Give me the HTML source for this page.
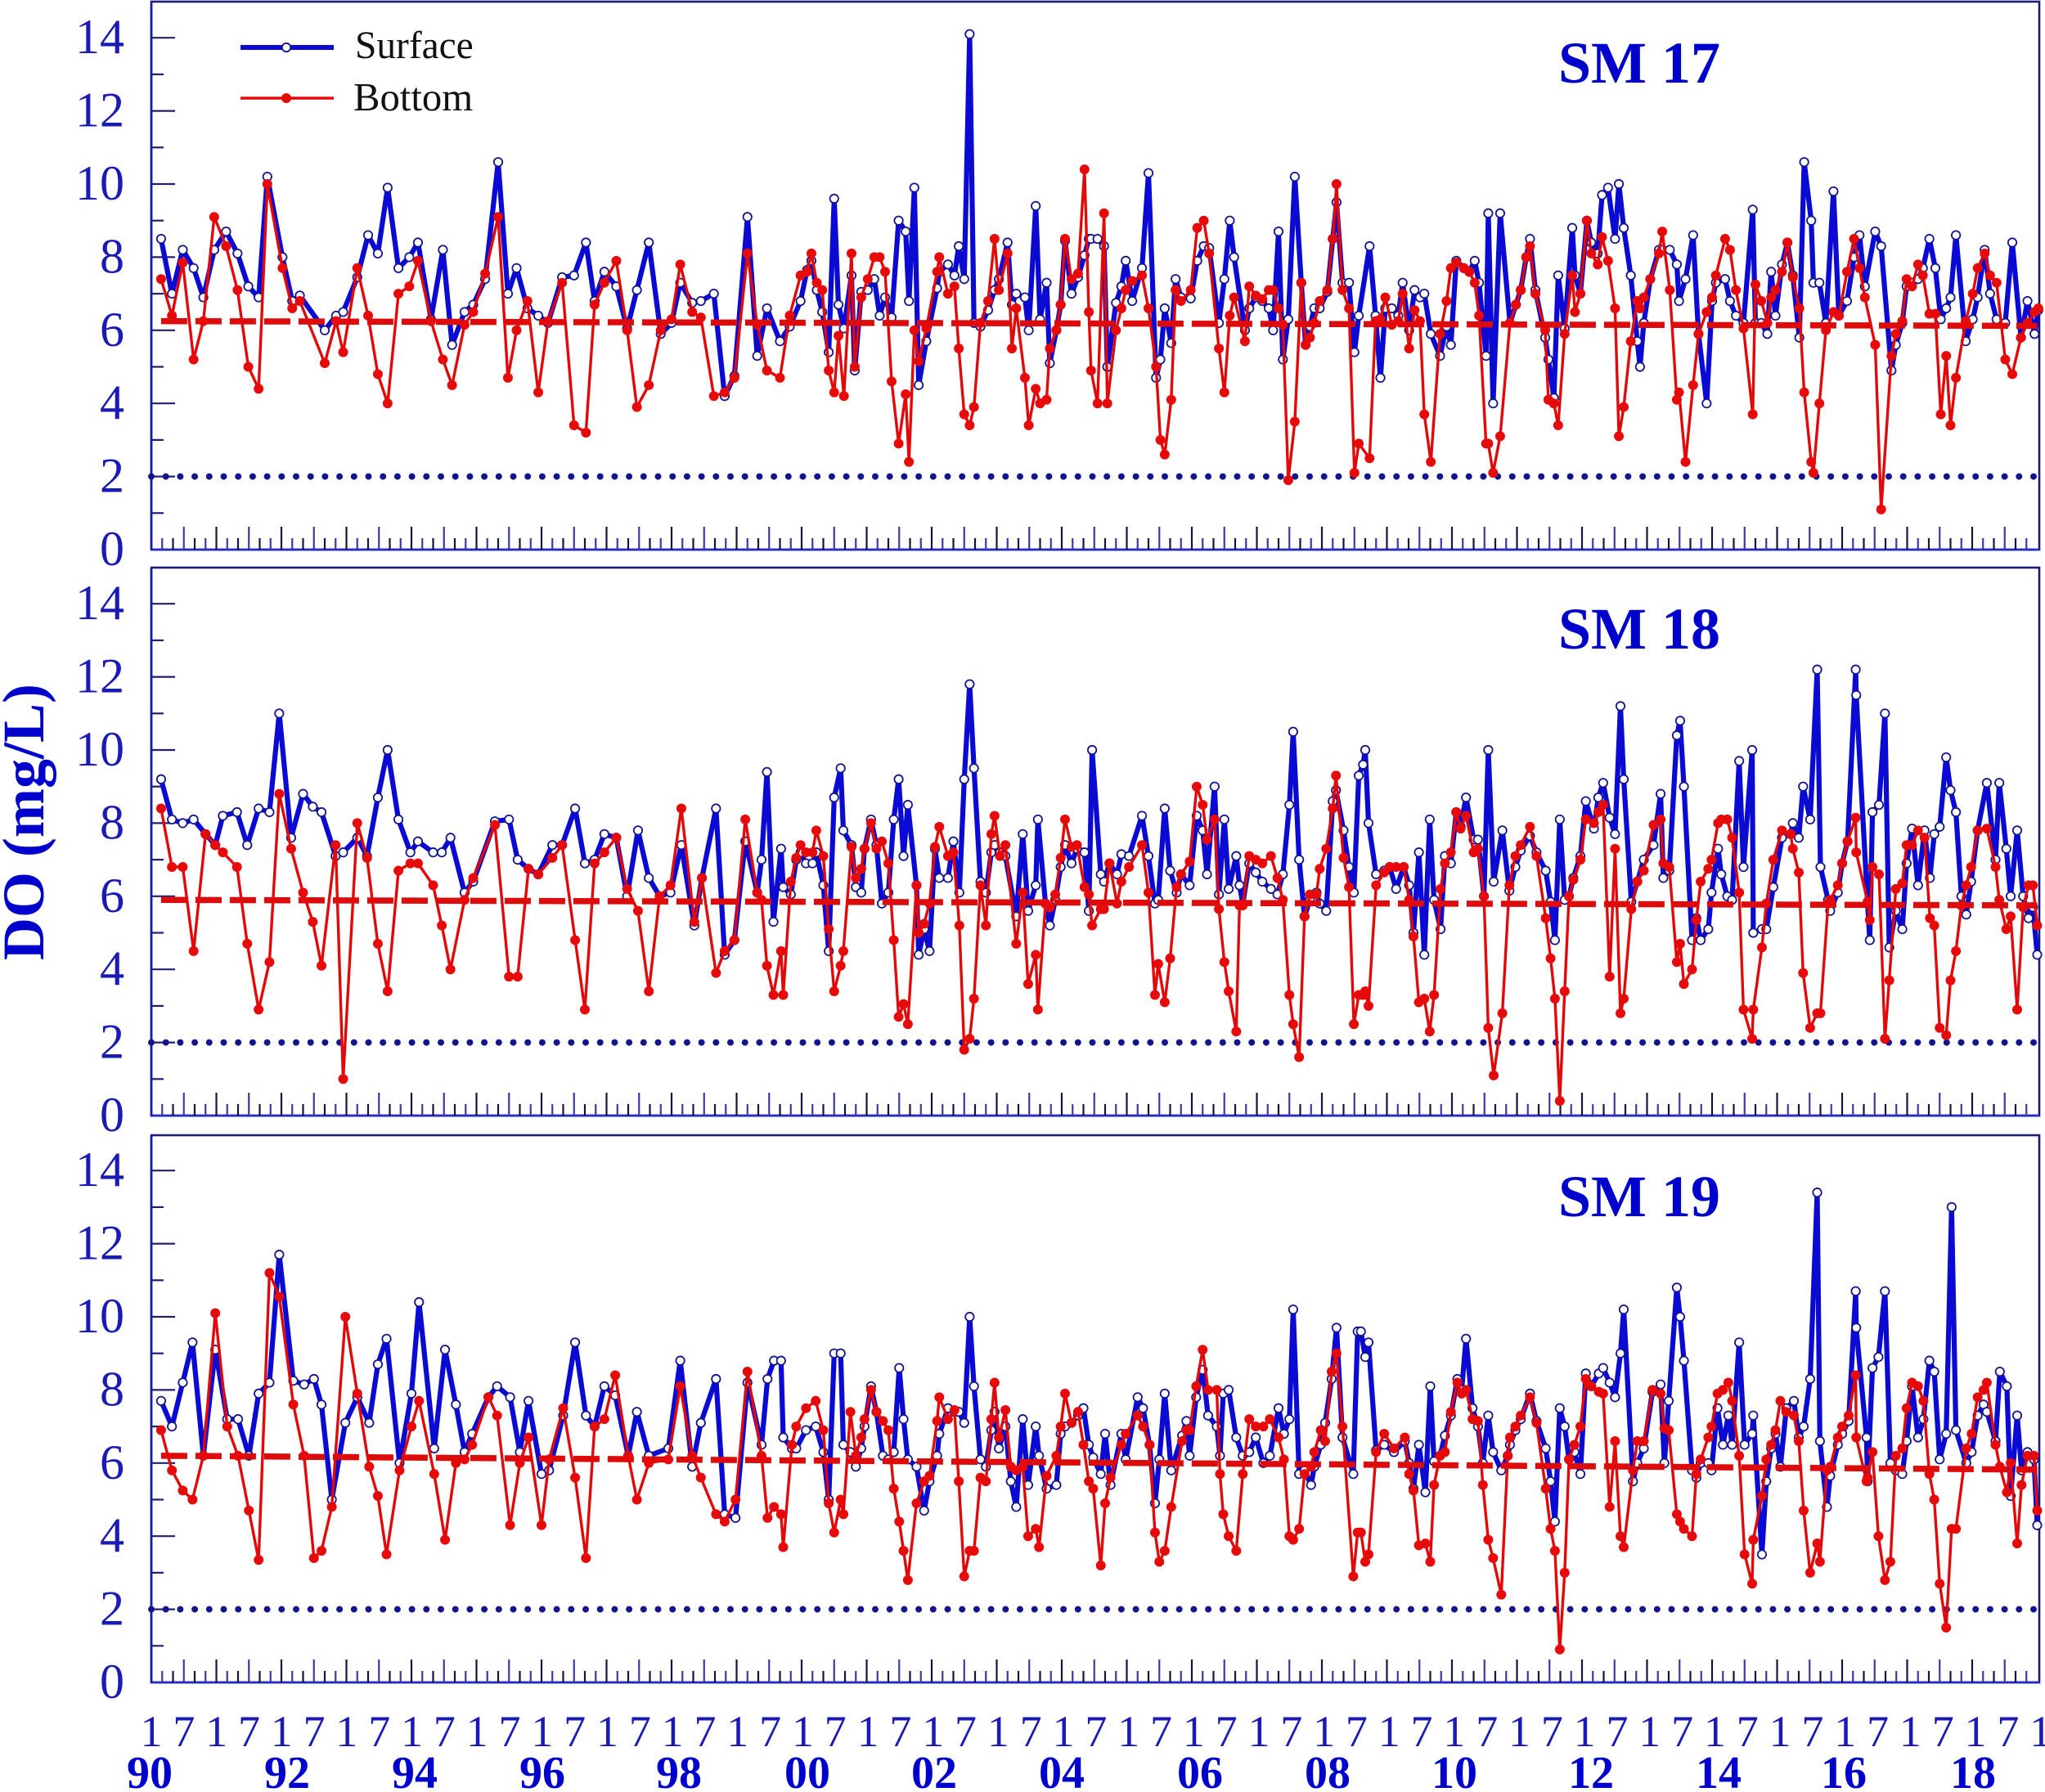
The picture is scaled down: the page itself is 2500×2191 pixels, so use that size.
<!DOCTYPE html>
<html lang="en">
<head>
<meta charset="utf-8">
<title>DO (mg/L) time series at SM 17, SM 18 and SM 19</title>
<style>
  html, body { margin: 0; padding: 0; background: #fff; }
  body { width: 2500px; height: 2191px; overflow: hidden; }
  svg { display: block; }
  text { font-family: "Liberation Serif", "Times New Roman", serif; }
</style>
</head>
<body>
<svg id="chart" xmlns="http://www.w3.org/2000/svg" width="2500" height="2191" viewBox="0 0 2500 2191">
  <rect x="0" y="0" width="2500" height="2191" fill="#ffffff"/>
  <text transform="translate(53 1005) rotate(-90)" text-anchor="middle" font-size="72" font-weight="bold" fill="#0000cc">DO (mg/L)</text>
  <g id="panels"></g>
  <g id="x-labels"></g>
  <g>
    <g>
      <line x1="294" y1="58" x2="408" y2="58" stroke="#0a0ad2" stroke-width="6"/>
      <circle cx="350" cy="58" r="5.2" fill="#ffffff" stroke="#14148c" stroke-width="1.8"/>
      <text x="434" y="71" font-size="47.4" fill="#111111">Surface</text>
    </g>
    <g>
      <line x1="294" y1="120" x2="408" y2="120" stroke="#e00a0a" stroke-width="3.4"/>
      <circle cx="350" cy="120" r="6" fill="#e60a0a"/>
      <text x="432" y="135" font-size="48.7" fill="#111111">Bottom</text>
    </g>
  </g>
</svg>
<script>
const yTickLabels = [0, 2, 4, 6, 8, 10, 12, 14];
const monthTickLabels = ['1', '7'];
const yearLabels = ['90','92','94','96','98','00','02','04','06','08','10','12','14','16','18'];
const yearLabelMonths = [0,24,48,72,96,120,144,168,192,216,240,264,288,312,336];
const thresholdDO = [2, 2];
const trendMonths = [1.8, 348];
const sm17Trend = [6.25, 6.12];
const sm18Trend = [5.9, 5.75];
const sm19Trend = [6.2, 5.82];

const sm17Months = [
1.8,3.8,5.8,7.8,9.6,11.6,13.8,15.9,17.9,19.8,
21.4,24.2,26,27.4,32,34.1,35.4,38,40,41.8,
43.6,45.6,47.6,49.2,51.6,53.8,55.5,57.8,59.4,61.6,
64,65.8,67.4,69.4,71.4,73.2,75.8,78,80.2,81.8,
83.6,85.8,87.8,89.6,91.8,94,96,97.6,99.8,101.4,
103.8,105.8,107.6,110,111.8,113.6,116,117.8,119.8,121,
121.8,122.8,123.8,125,126,126.8,127.8,129.2,129.8,131,
132.2,133.4,134.4,135.4,136.6,137.9,139.2,139.8,140.8,141.6,
143,145,145.4,147,148.2,149,150,151,151.8,153,
154.4,155.6,156.4,158,158.8,159.6,161.2,161.9,163.2,164,
165.2,165.8,167,167.8,168.6,169.8,171,172.2,173,173.4,
174.6,175.8,176.4,178,179,179.8,181,182.8,184,185.4,
186.2,187,188.2,189,190,191.8,193,194.2,195.2,197,
198,199,199.8,201.8,202.6,203.8,205,206.2,207,208,
208.8,209.8,211,212.2,213,213.8,214.6,215.6,217,218,
218.7,219.8,221,222,222.8,224.8,225.9,226.8,227.7,228.9,
230.1,230.9,232.1,233.1,234.1,234.9,236.1,237.8,239,239.8,
240.8,242.2,243.2,244.2,245,246.3,246.7,247.6,248.9,250.7,
251.8,252.7,253.7,254.4,255.4,257.2,257.8,258.8,259.6,260.8,
262.2,262.7,263.7,264.9,265.7,266.9,267.7,268.8,270.1,270.8,
271.7,273,274.2,274.7,275.4,276.6,278.2,278.8,280.2,281.5,
281.9,283.1,284.5,285.5,287,288,288.7,290.4,291.3,292.4,
293.8,295.5,296,297.1,298.2,298.9,299.7,300.9,301.9,302.9,
304.1,305,306.3,306.7,307.8,309,310.4,311.4,312.9,314.2,
315.2,316.2,318.1,319.2,321.1,321.9,323.1,323.9,324.9,326,
326.9,328.1,329.2,330.2,331.2,332,333,334.8,336.1,337,
338.3,339.3,340.5,342.1,343.4,345,346.2,347.5,348.2];
const sm17Surface = [
8.5,7.0,8.2,7.7,6.9,8.2,8.7,8.1,7.2,6.9,
10.2,8.0,6.8,6.95,6.0,6.4,6.5,7.45,8.6,8.1,
9.9,7.7,8.0,8.4,6.3,8.2,5.6,6.5,6.7,7.4,
10.6,7.0,7.7,6.6,6.4,6.2,7.45,7.5,8.4,6.8,
7.6,7.2,6.05,7.1,8.4,5.9,6.2,7.3,6.75,6.8,
7.0,4.2,4.75,9.1,5.3,6.6,5.7,6.1,6.8,7.65,
7.9,7.1,6.5,5.4,9.6,6.7,6.05,7.5,4.9,7.05,
7.1,7.4,6.4,6.9,6.35,9.0,8.7,6.8,9.9,4.5,
5.7,7.15,7.6,7.8,7.5,8.3,7.4,14.1,6.2,6.1,
6.55,7.1,7.4,8.4,6.7,7.0,6.9,6.0,9.4,6.3,
7.3,5.1,6.0,6.7,8.45,7.0,7.45,8.05,8.5,8.5,
8.5,8.3,5.0,6.75,7.2,7.9,6.8,7.7,10.3,4.7,
5.2,6.6,5.65,7.4,6.9,6.87,7.9,8.3,8.25,6.2,
7.4,9.0,8.0,6.0,6.6,6.9,6.8,6.6,6.0,8.7,
5.2,6.3,10.2,7.3,5.6,6.1,6.6,6.6,7.05,8.5,
9.5,7.3,7.3,5.4,6.4,8.3,6.4,4.7,6.6,6.6,
6.4,7.3,6.0,7.1,6.9,7.0,5.9,5.3,6.1,5.6,
7.9,7.7,7.6,7.9,7.3,5.3,9.2,4.0,9.2,6.2,
6.7,7.1,8.0,8.5,7.1,5.8,5.2,4.15,7.5,6.05,
8.8,7.5,7.0,9.0,8.4,8.1,9.7,9.9,8.5,10.0,
8.8,7.5,5.7,5.0,6.2,7.4,8.2,8.2,8.2,7.8,
6.8,7.4,8.6,5.9,4.0,6.8,7.3,7.4,6.8,6.4,
6.2,9.3,6.2,6.2,5.9,7.6,6.4,7.8,8.4,7.5,
5.8,10.6,9.0,7.3,7.3,6.2,9.8,6.4,6.8,8.0,
8.6,7.2,8.7,8.3,4.9,5.6,6.2,7.2,7.3,7.4,
7.7,8.5,7.7,6.3,6.6,6.9,8.6,5.7,6.3,6.9,
8.2,7.0,6.3,6.2,8.4,5.8,6.8,5.9,6.55];
const sm17Bottom = [
7.4,6.4,7.85,5.2,6.25,9.1,8.3,7.1,5.0,4.4,
10.0,7.7,6.6,6.8,5.1,6.25,5.4,7.7,6.4,4.8,
4.0,7.0,7.2,7.9,6.25,5.2,4.5,6.15,6.5,7.55,
9.1,4.7,6.0,6.8,4.3,6.25,7.3,3.4,3.2,6.7,
7.3,7.9,6.0,3.9,4.5,6.0,6.3,7.8,6.5,6.35,
4.2,4.3,4.7,8.1,6.15,4.9,4.7,6.4,7.5,7.6,
8.1,7.3,7.1,4.9,4.3,5.85,4.2,8.1,5.0,6.9,
7.4,8.0,8.0,7.6,4.6,2.9,4.25,2.4,6.0,5.15,
6.05,7.6,8.0,7.0,7.2,5.5,3.7,3.4,3.9,6.2,
6.8,8.5,7.1,8.1,5.5,6.6,4.7,3.4,4.4,4.0,
4.1,5.5,6.0,6.7,8.5,7.4,7.55,10.4,6.5,4.9,
4.0,9.2,4.0,6.0,6.6,7.1,7.35,7.5,6.6,5.0,
3.0,2.6,4.1,7.1,6.8,7.1,8.8,9.0,8.1,5.5,
4.3,6.4,6.9,5.7,7.2,6.95,6.85,7.1,7.1,6.6,
6.15,1.9,3.5,7.3,5.6,5.8,6.2,6.8,7.1,8.5,
10.0,7.1,6.6,2.1,2.9,2.5,6.25,6.3,6.9,6.15,
6.25,7.0,5.5,6.55,6.25,3.7,2.4,5.9,6.8,7.7,
7.85,7.7,7.6,7.3,6.4,2.9,2.9,2.1,3.1,6.2,
6.7,7.1,8.0,8.3,7.0,6.0,4.1,4.0,3.4,5.9,
7.5,6.5,7.0,9.0,8.1,7.8,8.55,7.9,6.6,3.1,
3.9,5.7,6.8,6.6,6.9,7.4,8.1,8.7,7.1,4.1,
4.3,2.4,4.5,5.9,6.5,6.9,7.5,8.5,8.2,7.1,
6.05,3.7,7.25,6.8,6.2,6.9,7.1,7.6,8.4,7.45,
6.6,4.3,2.4,2.1,4.0,6.0,6.5,6.4,7.6,8.5,
7.7,6.9,5.6,1.1,5.3,5.9,6.25,7.4,7.2,7.8,
7.5,6.45,6.45,3.7,5.3,3.4,4.7,6.25,7.0,7.7,
8.1,7.5,7.3,5.2,4.8,5.8,6.2,6.5,6.6];

const sm18Months = [
1.8,3.8,5.8,7.8,10,11.8,13.2,15.8,17.7,19.8,
21.8,23.6,25.8,28,29.8,31.4,34,35.4,38,39.8,
41.8,43.6,45.6,47.8,49.2,52,53.6,55.2,57.8,59.4,
63.4,66,67.6,69.6,71.4,74,75.8,78.2,80,81.8,
83.6,85.8,87.8,89.8,91.8,93.8,95.8,97.8,100.2,101.6,
104.2,105.8,107.6,109.6,111.8,112.6,113.6,114.8,116.2,116.6,
118,119,119.8,120.8,122,122.7,124,125,126,127.2,
127.7,129.2,130,131,131.6,132.8,133.8,134.8,136,137,
137.9,138.8,139.6,141.2,141.6,142.6,143.6,144.6,145.4,147,
148,149.1,150,151,151.8,153,154,155,155.6,156.6,
157.6,159.6,160.8,161.8,163.2,163.6,165,165.8,166.8,167.8,
168.6,169.8,170.8,172.2,173,173.6,175.2,175.8,176.8,178.2,
179,180.4,182.8,184,185.2,185.8,187,188,189.2,190,
191.6,192.9,194,194.8,196.2,197,198,198.8,200.2,200.8,
201.4,202.6,203.8,205,206.6,207.8,208.8,210,210.7,211.8,
212.8,213.8,215,215.6,216.8,218,218.6,220,221,221.9,
222.8,223.6,224,224.6,226,227.5,228.5,229.7,231.1,232.1,
232.9,233.9,234.9,235.9,236.7,237.9,238.7,239.8,240.8,241.6,
242.6,244,244.8,245.9,246.7,247.7,249.3,250.6,251.7,252.7,
254.4,255.6,257.3,258.2,259,259.9,260.8,261.6,262.4,263.7,
264.7,266.2,267,267.9,269.1,270.1,271.1,271.7,273.1,274.2,
275.4,277.2,278.5,279,280.1,281.5,282.1,282.8,284.3,285.1,
285.9,287.3,287.9,289.1,289.7,290.8,291.7,293,293.8,295.4,
295.6,297.2,298,299.3,300.9,302.5,302.9,304,304.8,306.1,
307.4,308,309.4,309.8,311.2,312,313,314.5,314.6,316.7,
317.1,317.6,318.8,319.9,320.7,321.9,323.1,323.9,324.9,326,
327.2,328.2,329,330,331.2,332,333,334,334.9,335.8,
337,338.7,340.3,341,342.3,343.1,344.3,345.4,346.4,347.2,
348];
const sm18Surface = [
9.2,8.1,8.0,8.1,7.7,7.4,8.2,8.3,7.4,8.4,
8.3,11.0,7.6,8.8,8.45,8.3,7.1,7.2,7.6,7.1,
8.7,10.0,8.1,7.2,7.5,7.2,7.2,7.6,6.1,6.4,
8.05,8.1,7.0,6.75,6.6,7.4,7.4,8.4,6.9,7.0,
7.7,7.6,6.0,7.8,6.5,6.0,6.1,7.4,5.2,6.5,
8.4,4.4,4.8,7.5,6.1,7.0,9.4,5.3,7.3,6.25,
6.05,7.0,7.2,6.9,6.9,7.2,6.3,4.5,8.7,9.5,
7.8,7.4,6.25,6.1,7.3,8.1,7.4,5.8,6.1,8.1,
9.2,7.1,8.5,6.3,4.4,5.1,4.5,7.3,6.5,6.5,
7.5,6.1,9.2,11.8,9.5,6.4,6.1,7.2,7.4,7.2,
7.1,5.45,7.7,5.6,6.3,8.1,5.8,5.2,5.9,6.8,
7.4,6.9,7.3,7.2,5.6,10.0,6.6,6.4,6.9,6.6,
7.15,7.1,8.2,7.1,5.8,5.9,8.4,6.7,6.1,6.6,
6.3,8.2,7.8,6.6,9.0,6.05,8.1,6.2,7.1,6.3,
5.8,6.9,6.65,6.4,6.2,6.05,6.6,8.5,10.5,7.0,
5.45,5.9,6.1,5.8,5.6,8.6,8.9,7.8,6.8,6.1,
9.3,9.6,10,8,6.6,6.7,6.8,6.2,6.8,6.3,
5.0,7.2,4.4,8.1,5.9,5.1,7.1,6.9,8.3,7.9,
8.7,7.55,7.55,6,10,6.4,7.8,6.15,6.8,7.25,
7.65,7.2,6.7,5.85,4.8,8.1,5.9,6,6.5,7.1,
8.6,7.85,8.7,9.1,8.15,7.7,11.2,9.2,5.85,6.4,
7,7.4,8.8,6.5,6.7,10.4,10.8,9,4.8,5.4,
4.8,5.1,6.1,7.3,6.6,6,5.9,9.7,6.8,10,
5,5.1,5.1,6.25,7.6,7.7,8,7.6,9,8.1,
12.2,6.8,5.9,5.6,6.1,6.9,7.5,12.2,11.5,5.8,
4.8,8.3,8.5,11,4.6,5.6,5.1,6.9,7.85,6.3,
7.8,6.5,7.7,7.9,9.8,8.9,8.3,6,5.5,6.4,
7.8,9.1,7,9.1,7.3,6,7.8,6,5.4,5.7,
4.4];
const sm18Bottom = [
8.4,6.8,6.8,4.5,7.7,7.4,7.2,6.8,4.7,2.9,
4.2,8.8,7.3,6.1,5.3,4.1,7.4,1.0,8.0,7.05,
4.7,3.4,6.7,6.9,6.9,6.3,5.2,4.0,5.9,6.5,
7.95,3.8,3.8,6.75,6.6,7.05,7.4,4.8,2.9,6.9,
7.2,7.6,6.2,5.6,3.4,6.0,6.3,8.4,5.3,6.5,
3.9,4.5,4.8,8.1,6.1,5.9,4.1,3.3,4.5,3.3,
6.4,7.05,7.4,7.2,7.2,7.8,7.1,5.1,3.4,4.1,
4.5,7.35,6.5,6.75,7.3,8.0,7.3,7.5,6.9,4.8,
2.7,3.05,2.5,6.3,5.0,5.25,5.8,7.35,7.9,7.1,
7.2,5.2,1.8,2.1,3.2,6.3,5.2,7.7,8.2,7.1,
7.4,4.7,6.1,3.6,4.4,2.9,5.8,5.7,6.05,7.05,
8.1,7.35,7.4,6.25,6.05,5.2,5.65,5.65,6.9,5.8,
6.4,6.8,7.4,6.1,3.3,4.15,3.1,4.3,6.25,6.6,
6.95,9.0,8.5,7.55,8.1,5.65,4.2,3.4,2.3,5.75,
5.75,7.1,7.0,6.9,7.1,6.5,5.9,3.3,2.5,1.6,
5.45,6.05,6.05,6.75,7.3,8.4,9.3,7.05,6.25,2.5,
3.3,3.3,3.4,3,6.3,6.65,6.8,6.8,6.8,5.9,
4.9,3.1,3.2,2.3,3.3,6.2,6.9,7.2,8.3,7.85,
8.2,7.2,7.3,6,2.4,1.1,2.8,6.3,7.1,7.4,
7.9,7.1,5.4,4.3,3.2,0.4,3.4,6,6.45,7,
8.1,8,8.3,8.5,3.8,7.3,2.8,3.2,5.65,6.4,
6.7,7.95,8.1,6.9,6.8,4.2,4.7,3.6,4,5.35,
6.4,6.75,7,8,8.1,8.1,7.6,6.1,2.9,2.1,
2.9,4.6,5.8,7,7.8,7.7,7.3,6.65,3.9,2.4,
2.8,2.8,5.8,5.9,6.3,6.9,7.5,8.15,7.2,5.85,
5.35,6.8,6.6,2.1,3.7,6.2,6.35,7.4,7.4,7.8,
7.6,5.4,5.2,2.4,2.2,3.7,4.5,5.75,6.3,6.8,
7.8,7.85,6.8,5.9,5.1,5.45,2.9,5.7,6.3,6.3,
5.2];

const sm19Months = [
1.8,3.8,5.8,7.6,9.6,11.8,14,16,18,19.8,
21.8,23.6,26.2,28.2,30,31.4,33.3,35.8,38,40.2,
41.8,43.4,45.8,48,49.4,52.2,54.2,56.2,57.8,59.2,
62.2,63.8,66.2,68,69.6,72,73.4,76,78.2,80.2,
81.8,83.6,85.6,88,89.6,91.8,95.4,97.6,99.8,101.4,
104.2,105.8,107.8,110,112.6,113.7,114.9,116.2,116.6,118.2,
119,120.8,122.6,124,125,126,127.2,127.7,129,130,
131,131.6,132.8,133.8,135,136,137,138,138.8,139.6,
141.2,142.6,143.6,145,145.4,147,148.2,149,150,151,
151.8,153,154,155,155.6,156.4,157.6,158.6,159.6,160.8,
161.8,163.2,163.8,165.2,167,167.8,168.6,169.8,171,172,
173,173.8,175.2,176,177,179,179.8,182,183,184.2,
185.2,186,187,188.2,190.2,191,191.6,192.8,194,195,
196.6,197.2,197.8,198.8,200.2,201.4,202.6,203.8,205.2,206.4,
208,209,210,210.7,211.8,212.8,214,214.6,215.8,216.6,
217.8,218.7,219.8,221.8,222.6,223.2,224,224.6,226,227.5,
229.3,231.3,232.1,232.9,233.9,235.1,236,236.7,237.8,238.7,
239.8,241,241.8,242.6,243.8,244.8,245.7,246.7,247.6,249.1,
250.3,250.7,251.7,252.7,254.4,255.6,257.3,258.2,259,259.9,
260.8,261.6,262.6,263.7,264.7,265.7,267.1,267.9,269.1,270.1,
271.1,271.7,273.4,274.2,275.4,277,278.5,279.2,280,281.5,
282.1,282.8,284.3,285.1,285.9,287.3,287.9,289,290,291,
291.7,293,294,295.4,295.6,297.2,298,298.9,299.7,300.6,
301.7,303.1,304,304.9,306.1,307.4,307.9,309.2,309.8,311.2,
312,313.2,314.5,314.6,316.5,316.7,317.6,318.7,319.9,320.9,
321.9,323.1,323.9,324.9,326,327,328.1,329,330,331.2,
332.2,333,334.9,335.9,337,338.1,338.7,340.3,341.1,342.4,
343.1,344.3,345.1,346.2,347.4,348];
const sm19Surface = [
7.7,7,8.2,9.3,6.2,9.1,7.2,7.2,6.2,7.9,
8.2,11.7,8.25,8.15,8.3,7.6,5,7.1,7.8,7.1,
8.7,9.4,6,7.9,10.4,6.4,9.1,7.6,6.3,6.8,
7.8,8.1,7.8,6.3,7.7,5.7,5.8,7.3,9.3,7.3,
7,8.1,7.85,6.2,7.4,6.2,6.4,8.8,5.9,7.1,
8.3,4.6,4.5,8.2,6.5,8.3,8.8,8.8,6.7,6.4,
6.4,6.9,7,6.3,5,9,9,6.5,6.3,5.9,
6.4,7,8.1,7.4,6.2,6.1,6.3,8.6,7.2,6.1,
5.9,4.7,5.5,6.2,6.8,7.5,7.4,7.4,7.1,10,
8.1,6.1,5.9,6.9,7.4,6.4,7,5.5,4.8,7.2,
5.4,7,6.2,5.3,5.4,6.8,7,7.1,7.3,7.5,
6.5,6.15,5.7,6.8,5.4,6.8,6.1,7.8,7.5,6.5,
4.9,6.1,7.9,5.8,6.75,7.15,6.2,7.8,8.55,7.3,
7,6.2,7.9,8,6.7,6.2,6.3,6.7,6,6.2,
7.5,6.8,7.2,10.2,5.7,5.8,5.4,5.9,6.5,7.1,
8.3,9.7,6.7,5.7,9.6,9.6,8.9,9.3,6.35,6.5,
6.3,6.6,6,5.3,6.5,5.2,8.1,6.05,6.2,6.75,
7.3,8.3,8,9.4,7.5,7,6,7.3,6.3,5.8,
6.2,6.5,6.9,7.2,7.9,7.15,6.4,5.5,4.4,7.5,
7,6.1,6.3,5.7,8.45,8.1,8.45,8.6,8.2,7.8,
9,10.2,5.5,6,6.4,7.95,8.15,6,7.7,10.8,
10,8.8,5.8,5.6,6,6,5.8,7.5,6.5,7.3,
6.5,9.3,6.5,6.8,7.3,3.5,5.5,6.4,6.8,5.9,
7.5,7.7,6.7,7,8.3,13.4,6.6,4.8,5.65,6.5,
6.8,7.15,10.7,9.7,6.7,5.5,8.6,8.9,10.7,6,
5.8,5.7,6.6,8.1,6.7,7.2,8.8,8.5,6.1,6.8,
13,6.9,6,6.3,7.3,7.6,7.4,6.6,8.5,8.1,
5.1,7.3,5.8,6.3,6.1,4.3];
const sm19Bottom = [
6.9,5.8,5.25,5,6.2,10.1,7,6.2,4.7,3.35,
11.2,10.55,7.6,6.2,3.4,3.6,4.8,10,7.9,5.9,
5.1,3.5,5.8,7,7.7,5.7,3.9,6,6.1,6.5,
7.8,7.3,4.3,6,6.7,4.3,6.1,7.5,5.6,3.4,
7,7.2,8.4,6.2,5,6,6.1,8.1,6.2,5.6,
4.6,4.4,5,8.5,6.2,4.5,4.8,4.6,3.7,6.5,
7,7.5,7.7,6.9,4.9,4.1,5,4.6,7.4,6.2,
6.7,7.2,8,7.4,7.15,6.9,5.3,4.4,3.6,2.8,
4.9,5.5,5.65,7.15,7.8,7.2,7.45,5.5,2.9,3.6,
3.6,5.6,5.5,7.2,8.2,6.7,7.45,5.9,5.8,5.9,
4,4.2,3.7,5.65,6.2,7,7.9,7.1,7.4,6.5,
5.5,5.3,3.2,4.9,5.6,6.5,6.8,7.3,7,6.5,
4.1,3.3,3.6,4.8,6.6,6.9,6.9,8.1,9.1,8,
8,5.7,4.6,4,3.6,5.7,7.2,7,7,7.2,
6.7,6.1,4,3.9,4.2,5.7,5.9,6.3,6.9,6.6,
8.5,9,7,2.9,4.1,4.1,3.3,3.5,6.3,6.8,
6.4,6.7,5.7,5.25,3.75,3.8,3.3,5.4,6.2,6.3,
7.4,8.2,7.9,8,7.2,7.15,5.4,3.9,3.4,2.4,
6.2,6.7,7,7.3,7.8,7.1,5.3,4.2,3.6,0.9,
3,6.1,6.5,7,8.3,8.1,7.95,7.9,4.8,6.6,
4,3.7,5.8,6.6,6.6,8,7.9,6.95,6.9,4.6,
4.4,4.2,4,5.7,6.1,6.7,7,7.9,8,8.2,
7.7,6.2,3.5,2.7,3.9,5.1,6.1,6.5,6.9,7.7,
7.4,7.3,6.6,4.7,3,3.8,3.3,5.8,5.9,6.7,
7,7.3,8.4,6.7,5.5,5.6,6.3,4,2.8,3.3,
6.2,6.4,7.5,8.2,8.1,7.7,5.7,5,2.7,1.5,
4.2,4.2,6.4,6.8,7.8,8,8.2,6.5,5.9,5.2,
6,3.8,5.4,6.2,6.2,4.7];

const svgNS = 'http://www.w3.org/2000/svg';
const plotLeft = 185;
const plotRight = 2493;
const monthWidth = 6.625;
const unitHeight = 44.7;
const panelLayout = [
  { key: 'sm-17', title: 'SM 17', top: 2, zero: 672, months: sm17Months, surface: sm17Surface, bottom: sm17Bottom, trend: sm17Trend },
  { key: 'sm-18', title: 'SM 18', top: 694, zero: 1364, months: sm18Months, surface: sm18Surface, bottom: sm18Bottom, trend: sm18Trend },
  { key: 'sm-19', title: 'SM 19', top: 1388, zero: 2057, months: sm19Months, surface: sm19Surface, bottom: sm19Bottom, trend: sm19Trend }
];
const yearLabelShift = [-2, 7, 4, 1, 9, 7, 3, 0, 10, 7, 3, 11, 8, 2, 1];

function xScale(month) { return plotLeft + month * monthWidth; }
function yScale(panel, value) { return panel.zero - value * unitHeight; }
function make(tag, attrs, parent) {
  const el = document.createElementNS(svgNS, tag);
  for (const k in attrs) el.setAttribute(k, attrs[k]);
  parent.appendChild(el);
  return el;
}
function pointList(panel, months, values) {
  return months.map((m, i) => xScale(m).toFixed(1) + ',' + yScale(panel, values[i]).toFixed(1)).join(' ');
}

const panelsRoot = document.getElementById('panels');
panelLayout.forEach(function (panel) {
  const g = make('g', {}, panelsRoot);
  
  

  const frame = make('rect', { x: plotLeft, y: panel.top, width: plotRight - plotLeft, height: panel.zero - panel.top, fill: 'none', stroke: '#1c1c78', 'stroke-width': 2.6 }, g);
  
  

  const baseAxis = make('line', { x1: plotLeft, y1: panel.zero, x2: plotRight, y2: panel.zero, stroke: '#2a2ac4', 'stroke-width': 2.8 }, g);
  
  

  const leftAxis = make('line', { x1: plotLeft, y1: panel.zero, x2: plotLeft, y2: panel.top + 1, stroke: '#1a1aa8', 'stroke-width': 2.6 }, g);
  
  

  for (let v = 1; v <= 14; v++) {
    const major = v % 2 === 0;
    const tick = make('line', { x1: plotLeft, y1: yScale(panel, v), x2: plotLeft + (major ? 29 : 15), y2: yScale(panel, v), stroke: '#20206e', 'stroke-width': 2.2 }, g);
    
    
  }
  yTickLabels.forEach(function (label) {
    const t = make('text', { x: 152, y: yScale(panel, label) + 19, 'text-anchor': 'end', 'font-size': 60, fill: '#1a1ab4' }, g);
    t.textContent = String(label);
    
    
  });
  for (let m = 2; m < 348; m += 2) {
    const major = m % 6 === 0;
    const tick = make('line', { x1: xScale(m), y1: panel.zero, x2: xScale(m), y2: panel.zero - (major ? 28 : 14), stroke: m % 4 === 0 ? '#14143c' : '#3a3aa0', 'stroke-width': 2.2 }, g);
    
    
  }

  const threshold = make('line', { x1: plotLeft, y1: yScale(panel, thresholdDO[0]), x2: plotRight, y2: yScale(panel, thresholdDO[1]), stroke: '#14148c', 'stroke-width': 8, 'stroke-linecap': 'round', 'stroke-dasharray': '0 17.7' }, g);
  
  

  const surfaceLine = make('polyline', { points: pointList(panel, panel.months, panel.surface), fill: 'none', stroke: '#0a0ad2', 'stroke-width': 6.2, 'stroke-linejoin': 'round' }, g);
  
  

  panel.months.forEach(function (m, i) {
    const dot = make('circle', { cx: xScale(m), cy: yScale(panel, panel.surface[i]), r: 5.2, fill: '#ffffff', stroke: '#14148c', 'stroke-width': 1.8 }, g);
    
    
  });

  const trend = make('line', { x1: xScale(trendMonths[0]), y1: yScale(panel, panel.trend[0]), x2: xScale(trendMonths[1]), y2: yScale(panel, panel.trend[1]), stroke: '#dc0c0c', 'stroke-width': 7.5, 'stroke-dasharray': '32 10' }, g);
  
  

  const bottomLine = make('polyline', { points: pointList(panel, panel.months, panel.bottom), fill: 'none', stroke: '#e00a0a', 'stroke-width': 3.4, 'stroke-linejoin': 'round' }, g);
  
  

  panel.months.forEach(function (m, i) {
    const dot = make('circle', { cx: xScale(m), cy: yScale(panel, panel.bottom[i]), r: 6, fill: '#e60a0a' }, g);
    
    
  });

  const title = make('text', { x: 2004, y: panel.top + 99, 'text-anchor': 'middle', 'font-size': 72, 'font-weight': 'bold', fill: '#0000cc' }, g);
  title.textContent = panel.title;
  
  
});

const xLabelRoot = document.getElementById('x-labels');
for (let m = 0, i = 0; m <= 348; m += 6, i++) {
  const t = make('text', { x: xScale(m) + m * 0.012, y: 2135, 'text-anchor': 'middle', 'font-size': 54, fill: '#1a1ab4' }, xLabelRoot);
  t.textContent = monthTickLabels[i % 2];
  
  
}
yearLabels.forEach(function (label, i) {
  const t = make('text', { x: xScale(yearLabelMonths[i]) + yearLabelShift[i], y: 2186, 'text-anchor': 'middle', 'font-size': 56, 'font-weight': 'bold', fill: '#0000cc' }, xLabelRoot);
  t.textContent = label;
  
  
});
</script>
</body>
</html>
